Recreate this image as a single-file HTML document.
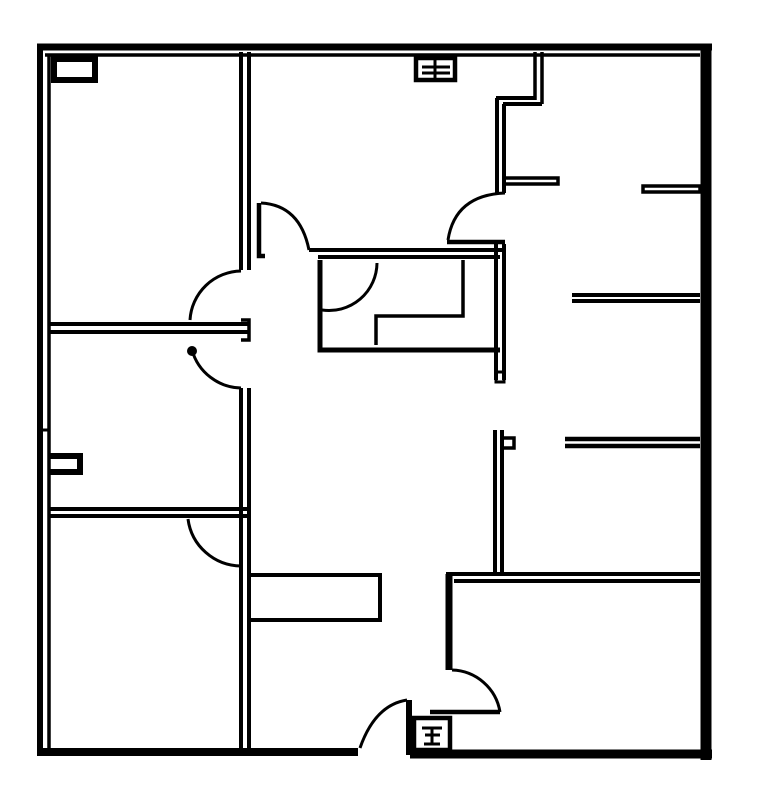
<!DOCTYPE html>
<html><head><style>html,body{margin:0;padding:0;background:#fff}svg{display:block}</style></head>
<body>
<svg width="761" height="800" viewBox="0 0 761 800" xmlns="http://www.w3.org/2000/svg">
<g fill="none" stroke="#000" stroke-linecap="butt">
<!-- outer walls -->
<path d="M37 47 H712" stroke-width="7"/>
<path d="M45 55 H700" stroke-width="3.5"/>
<path d="M40 44 V756" stroke-width="6"/>
<path d="M49 56 V752" stroke-width="3.5"/>
<path d="M706 44 V760" stroke-width="11"/>
<path d="M37 752 H358" stroke-width="8"/>
<path d="M410 754 H712" stroke-width="9"/>
<!-- central vertical wall -->
<path d="M241 52 V270 M249 52 V270" stroke-width="4"/>
<path d="M241 388 V748 M249 388 V748" stroke-width="4"/>
<path d="M241 320 H249 V340 H241" stroke-width="3.5"/>
<!-- horizontal room dividers -->
<path d="M49 324 H249 M49 332 H249" stroke-width="4"/>
<path d="M49 509 H249 M49 516 H249" stroke-width="4"/>
<!-- door arcs left -->
<path d="M241 271 A52 52 0 0 0 190 320" stroke-width="3"/>
<path d="M192 350 A52 52 0 0 0 241 388" stroke-width="3"/>
<circle cx="192" cy="351" r="4.5" fill="#000"/>
<path d="M188 519 A54 54 0 0 0 241 566" stroke-width="3"/>
<!-- box on corridor -->
<path d="M249 575 H380 V620 H249" stroke-width="4"/>
<!-- upper middle door and box -->
<path d="M259 203 V256 H265" stroke-width="4.5"/>
<path d="M261 203 Q300 205 309 250" stroke-width="3"/>
<path d="M309 250 H505 M318 257 H500" stroke-width="4"/>
<path d="M320 260 V350 H500" stroke-width="5"/>
<path d="M377 263 A48 48 0 0 1 322 310" stroke-width="3"/>
<path d="M376 345 V316 H463 V260" stroke-width="3.5"/>
<path d="M496 244 V380 M504 244 V380" stroke-width="4"/>
<path d="M496 372 H504 V382 H496Z" stroke-width="3"/>
<path d="M447 242 H505" stroke-width="4.5"/>
<!-- upper right wall -->
<path d="M535 52 V100 M542 52 V104" stroke-width="3.5"/>
<path d="M496 98 H535 M503 104 H542" stroke-width="4"/>
<path d="M497 98 V193 M504 104 V193" stroke-width="4"/>
<path d="M505 193 Q455 195 448 240" stroke-width="3"/>
<path d="M505 178 H558 V184 H505" stroke-width="3.5"/>
<!-- right stubs -->
<path d="M643 186 H700 V192 H643Z" stroke-width="3.5"/>
<path d="M572 295 H700 M572 301 H700" stroke-width="4"/>
<path d="M565 439 H700 M565 446 H700" stroke-width="4.5"/>
<!-- mid vertical -->
<path d="M495 430 V575 M502 430 V575" stroke-width="4"/>
<path d="M502 438 H514 V448 H502" stroke-width="3.5"/>
<!-- lower right room -->
<path d="M446 574 H700 M454 581 H700" stroke-width="4"/>
<path d="M449 574 V670" stroke-width="7"/>
<path d="M452 670 A50 50 0 0 1 500 712" stroke-width="3"/>
<path d="M430 712 H500" stroke-width="4.5"/>
<path d="M414 718 H450 V750 H414Z" stroke-width="4.5"/>
<path d="M422 728 H442 M425 735 H440 M432 728 V745 M424 744 H440" stroke-width="3"/>
<!-- entry -->
<path d="M409 700 V755" stroke-width="6"/>
<path d="M407 700 Q375 705 360 748" stroke-width="3"/>
<!-- small fixtures -->
<path d="M54 59 H95 V80 H54Z" stroke-width="6"/>
<path d="M416 58 H455 V80 H416Z" stroke-width="4.5"/>
<path d="M422 67 H450 M422 73 H450 M435 60 V78" stroke-width="3"/>
<path d="M50 456 H80 V472 H50" stroke-width="6"/>
<path d="M40 430 H48" stroke-width="3"/>
</g>
</svg>
</body></html>
